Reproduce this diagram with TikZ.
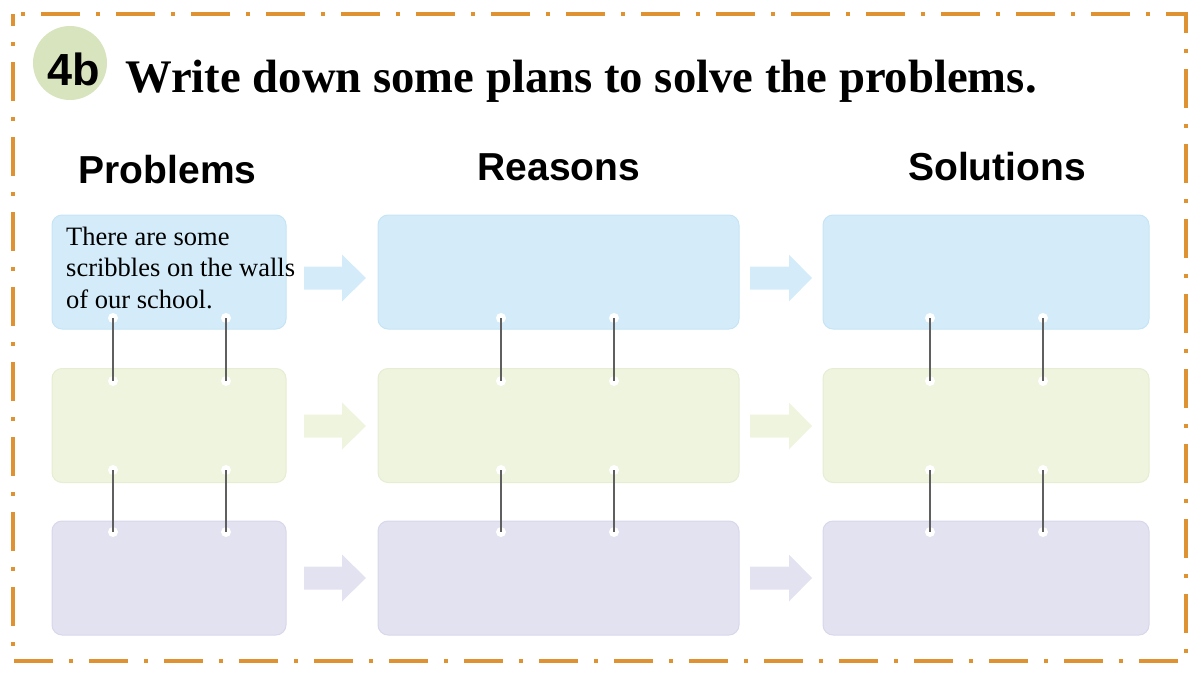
\documentclass[tikz,border=0pt]{standalone}
\usepackage{fontspec}
\setmainfont{Liberation Serif}
\setsansfont{Liberation Sans}
\definecolor{framec}{RGB}{222,146,50}
\definecolor{bluef}{RGB}{212,236,249}
\definecolor{blued}{RGB}{198,228,246}
\definecolor{greenf}{RGB}{239,244,222}
\definecolor{greend}{RGB}{229,237,210}
\definecolor{lavf}{RGB}{227,226,241}
\definecolor{lavd}{RGB}{216,215,235}
\definecolor{badgec}{RGB}{215,228,189}
\definecolor{connc}{RGB}{95,95,95}
\newcommand\flowarrow[5]{\fill[#5] (#1,#4-11.5) -- (#2,#4-11.5) -- (#2,#4-23.5) -- (#3,#4) -- (#2,#4+23.5) -- (#2,#4+11.5) -- (#1,#4+11.5) -- cycle;}
\begin{document}
\begin{tikzpicture}[x=1pt,y=-1pt,
  cell/.style={rectangle, rounded corners=10pt, inner sep=0pt, minimum height=114pt, line width=1pt},
  head/.style={font=\sffamily\bfseries\fontsize{39}{45}\selectfont, anchor=base},
  conn/.style={draw=connc, line width=2.4pt},
  dotc/.style={fill=white}]
\useasboundingbox (0,0) rectangle (1200,675);
% frame
\draw[framec, line width=4pt, dash pattern=on 39pt off 16pt on 4pt off 16pt, dash phase=47pt]
  (13,14) -- (1186,14) -- (1186,661) -- (13,661) -- cycle;
% badge and title
\node[circle, fill=badgec, minimum size=74pt, inner sep=0pt] (badge) at (70,63) {};
\node[font=\sffamily\bfseries\fontsize{45}{50}\selectfont, anchor=base] (badgetxt) at (74,85) {4b};
\node[anchor=base west, inner sep=0pt, font=\fontsize{46.7}{50}\selectfont\bfseries] (title) at (125,92) {Write down some plans to solve the problems.};
% headings
\node[head] (hp) at (167.5,183) {Problems};
\node[head] (hr) at (559,180) {Reasons};
\node[head] (hs) at (997,180) {Solutions};
% cells
\node[cell, fill=bluef, draw=blued, minimum width=234pt] (p1) at (169,272) {};
\node[cell, fill=greenf, draw=greend, minimum width=234pt] (p2) at (169,425.5) {};
\node[cell, fill=lavf, draw=lavd, minimum width=234pt] (p3) at (169,578) {};
\node[cell, fill=bluef, draw=blued, minimum width=361pt] (r1) at (558.5,272) {};
\node[cell, fill=greenf, draw=greend, minimum width=361pt] (r2) at (558.5,425.5) {};
\node[cell, fill=lavf, draw=lavd, minimum width=361pt] (r3) at (558.5,578) {};
\node[cell, fill=bluef, draw=blued, minimum width=326pt] (s1) at (986,272) {};
\node[cell, fill=greenf, draw=greend, minimum width=326pt] (s2) at (986,425.5) {};
\node[cell, fill=lavf, draw=lavd, minimum width=326pt] (s3) at (986,578) {};
% arrows
\flowarrow{304}{342}{366}{278}{bluef}
\flowarrow{750}{789}{812}{278}{bluef}
\flowarrow{304}{342}{366}{426}{greenf}
\flowarrow{750}{789}{812}{426}{greenf}
\flowarrow{304}{342}{366}{578}{lavf}
\flowarrow{750}{789}{812}{578}{lavf}
% text
\node[anchor=base west, inner sep=0pt, align=left, font=\fontsize{26.5}{31.5}\selectfont] (ptext) at (66,308)
  {There are some\\scribbles on the walls\\of our school.};
% connectors
\foreach \cx/\k in {113/a,226/b,501/c,614/d,930/e,1043/f}{
  \foreach \ya/\yb/\m in {318/381/u,470/532/l}{
    \coordinate (top\k\m) at (\cx,\ya);
    \coordinate (bot\k\m) at (\cx,\yb);
    \fill[dotc] (top\k\m) circle (5);
    \fill[dotc] (bot\k\m) circle (5);
    \draw[conn] (top\k\m) -- (bot\k\m);
  }
}
\end{tikzpicture}
\end{document}
